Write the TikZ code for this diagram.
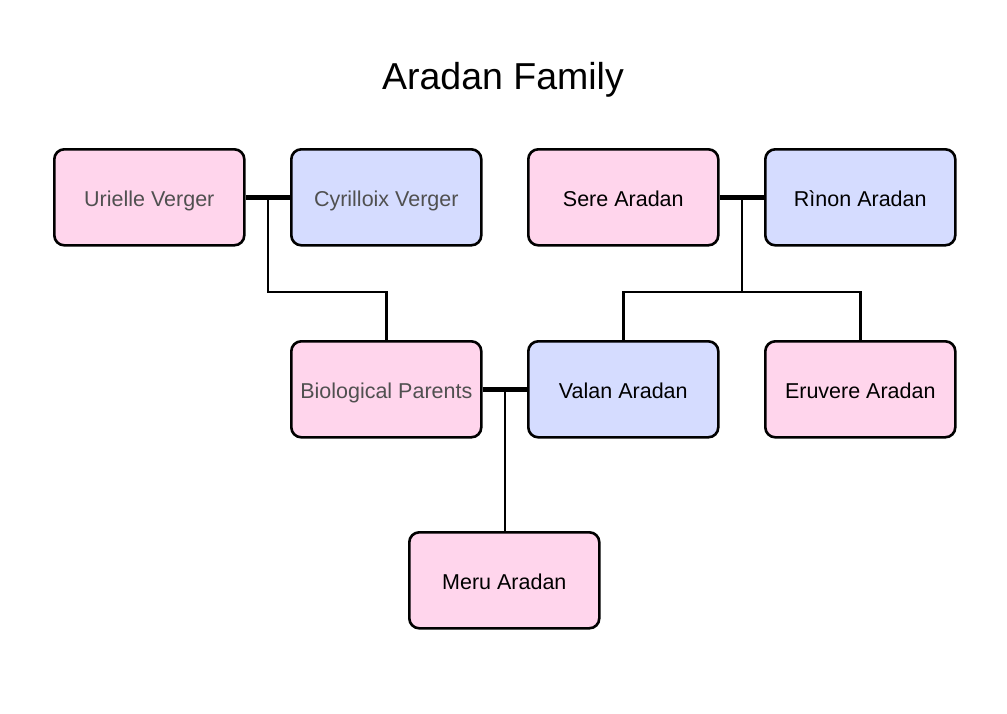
\documentclass[tikz,border=0pt]{standalone}
\usepackage{fontspec}
\setmainfont{Liberation Sans}
\definecolor{pinkf}{HTML}{FFD5EC}
\definecolor{bluef}{HTML}{D5DCFF}
\definecolor{greyt}{HTML}{505050}
\begin{document}
\begin{tikzpicture}[x=1pt,y=-1pt,
  person/.style={draw=black, line width=2.6pt, rounded corners=10pt, minimum width=190pt, minimum height=96pt, inner sep=0pt, text height=18pt, text depth=0pt, font=\fontsize{21.5}{25}\selectfont, anchor=north west},
  female/.style={person, fill=pinkf},
  male/.style={person, fill=bluef},
  marriage/.style={line width=5pt},
  descent/.style={line width=2.6pt}]
\useasboundingbox (0,0) rectangle (1007,713);
\node[font=\fontsize{37.5}{42}\selectfont] (title) at (503,80) {Aradan Family};
\node[female, text=greyt] (urielle) at (53,148) {Urielle Verger};
\node[male, text=greyt] (cyrilloix) at (290,148) {Cyrilloix Verger};
\node[female] (sere) at (527,148) {Sere Aradan};
\node[male] (rinon) at (764,148) {Rìnon Aradan};
\node[female, text=greyt] (bio) at (290,340) {Biological Parents};
\node[male] (valan) at (527,340) {Valan Aradan};
\node[female] (eruvere) at (764,340) {Eruvere Aradan};
\node[female] (meru) at (408,531) {Meru Aradan};
% marriages
\draw[marriage] (urielle.east) -- coordinate (m1) (cyrilloix.west);
\draw[marriage] (sere.east) -- coordinate (m2) (rinon.west);
\draw[marriage] (bio.east) -- coordinate (m3) (valan.west);
% descent
\draw[descent] (m1) -- (m1 |- 0,292) -| (bio.north);
\draw[descent] (m2) -- (m2 |- 0,292);
\draw[descent] (valan.north) |- (eruvere.north |- 0,292) -- (eruvere.north);
\draw[descent] (m3) -- (m3 |- meru.north);
\end{tikzpicture}
\end{document}
